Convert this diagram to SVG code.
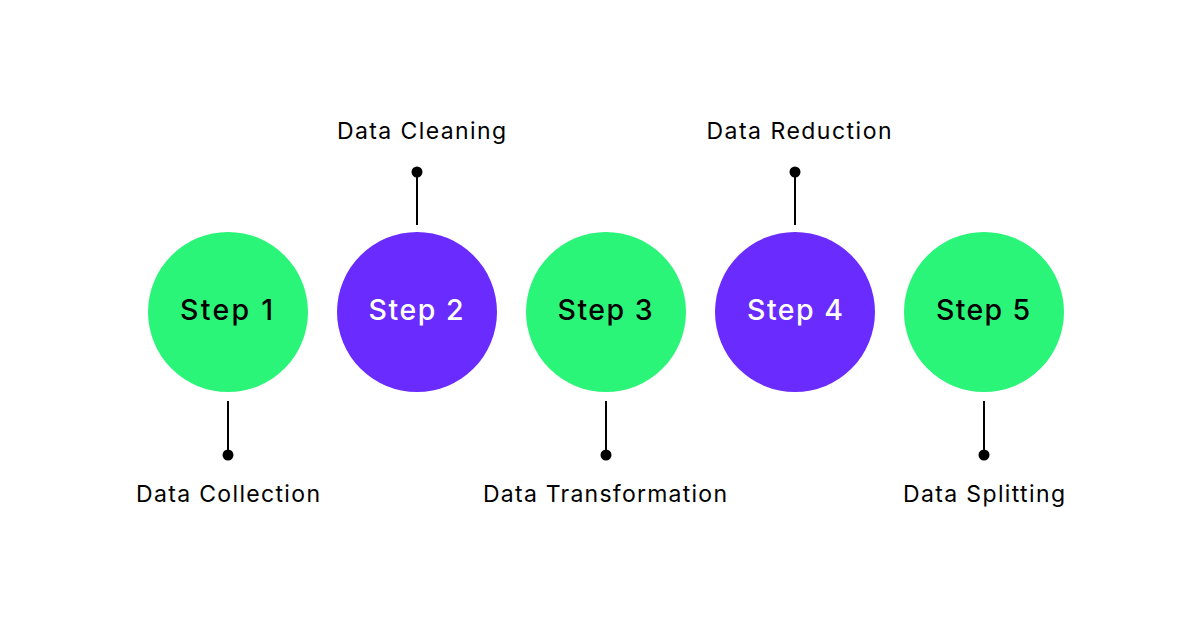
<svg xmlns="http://www.w3.org/2000/svg" width="1200" height="628" viewBox="0 0 1200 628">
<style>
.green{fill:#2af578}
.purple{fill:#6a2bff}
.step{font-family:Inter,"Noto Sans",sans-serif;font-size:28.5px;font-weight:500;text-anchor:middle}
.dark{fill:#000}
.light{fill:#fff}
.label{font-family:Inter,"Noto Sans",sans-serif;font-size:23px;font-weight:400;fill:#000;text-anchor:middle}
.conn line{stroke:#000;stroke-width:2}
.conn circle{fill:#000}
</style>
<rect width="1200" height="628" fill="#fff"/>
<g id="connectors" class="conn">
<line x1="228" y1="401" x2="228" y2="455"/><circle cx="228" cy="455" r="5.5"/>
<line x1="417" y1="225" x2="417" y2="172"/><circle cx="417" cy="172" r="5.5"/>
<line x1="606" y1="401" x2="606" y2="455"/><circle cx="606" cy="455" r="5.5"/>
<line x1="795" y1="225" x2="795" y2="172"/><circle cx="795" cy="172" r="5.5"/>
<line x1="984" y1="401" x2="984" y2="455"/><circle cx="984" cy="455" r="5.5"/>
</g>
<g id="step1"><circle class="green" cx="228" cy="312" r="80"/><text class="step dark" x="226.5" y="320" textLength="93" lengthAdjust="spacing">Step 1</text></g>
<g id="step2"><circle class="purple" cx="417" cy="312" r="80"/><text class="step light" x="416" y="320" textLength="95" lengthAdjust="spacing">Step 2</text></g>
<g id="step3"><circle class="green" cx="606" cy="312" r="80"/><text class="step dark" x="605" y="320" textLength="95" lengthAdjust="spacing">Step 3</text></g>
<g id="step4"><circle class="purple" cx="795" cy="312" r="80"/><text class="step light" x="795" y="320" textLength="96" lengthAdjust="spacing">Step 4</text></g>
<g id="step5"><circle class="green" cx="984" cy="312" r="80"/><text class="step dark" x="983" y="320" textLength="94" lengthAdjust="spacing">Step 5</text></g>
<g id="label1"><text class="label" x="228" y="502" textLength="184" lengthAdjust="spacing">Data Collection</text></g>
<g id="label2"><text class="label" x="421.5" y="139" textLength="169" lengthAdjust="spacing">Data Cleaning</text></g>
<g id="label3"><text class="label" x="605" y="502" textLength="244" lengthAdjust="spacing">Data Transformation</text></g>
<g id="label4"><text class="label" x="799" y="139" textLength="185" lengthAdjust="spacing">Data Reduction</text></g>
<g id="label5"><text class="label" x="984" y="502" textLength="162" lengthAdjust="spacing">Data Splitting</text></g>
</svg>
